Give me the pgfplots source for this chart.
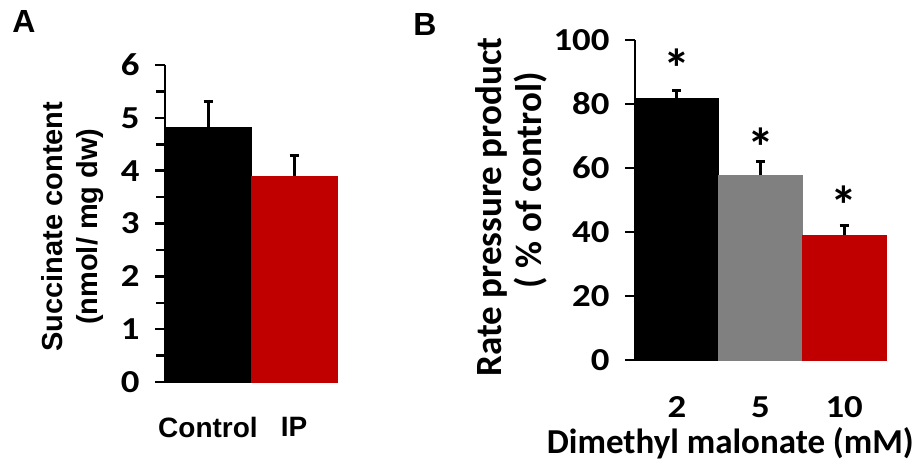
\documentclass[border=0pt]{standalone}
\usepackage{pgfplots}
\pgfplotsset{compat=1.18}
\usepackage{fontspec}
\setmainfont{Liberation Sans}
\newfontfamily\calib{Carlito}
\newfontfamily\calibw{Carlito}[FakeStretch=1.15]
\newfontfamily\arial{Liberation Sans}
\definecolor{xred}{HTML}{C00000}
\definecolor{xgray}{HTML}{808080}
\pgfplotsset{
  common/.style={
    scale only axis,
    anchor=south west,
    axis y line=left,
    axis x line=bottom,
    x axis line style={draw=none},
    y axis line style={line width=2.5pt,-},
    xtick style={draw=none},
    ytick style={line width=2.5pt, black},
    tick align=outside,
    major tick length=10pt,
    /pgf/number format/assume math mode=true,
    yticklabel style={font=\calibw\bfseries\fontsize{32}{38}\selectfont, xshift=-12pt},
    clip=false,
  },
  errb/.style={error bars/.cd, y dir=plus, y explicit,
    error bar style={line width=3pt, draw=black, solid},
    error mark options={rotate=90, line width=3pt, mark size=4.5pt, draw=black, solid}},
}
\begin{document}
\begin{tikzpicture}
\useasboundingbox (0pt,0pt) rectangle (920pt,466pt);
\node[font=\arial\bfseries\fontsize{32}{36}\selectfont] at (24pt,445pt) {A};
\node[font=\arial\bfseries\fontsize{32}{36}\selectfont] at (425pt,442pt) {B};

\begin{axis}[common, at={(165pt,84pt)}, width=172pt, height=317pt,
  xmin=-0.5, xmax=1.5, ymin=0, ymax=6,
  ytick={0,1,2,3,4,5,6}, minor y tick num=1, minor tick length=9pt,
  xtick={0,1}, xticklabels={Control,IP},
  xticklabel style={font=\arial\bfseries\fontsize{28}{34}\selectfont, anchor=center, yshift=-35pt},
  ylabel={Succinate content\\(nmol/ mg dw)},
  ylabel style={font=\arial\bfseries\fontsize{29}{35}\selectfont, align=center,
    at={(axis description cs:-0.535,0.49)}, anchor=center},
]
\addplot[ybar, bar width=1, bar shift=0pt, draw=black, line width=0pt, fill=black, errb]
  coordinates {(0,4.82) +- (0,0.49)};
\addplot[ybar, bar width=1, bar shift=0pt, draw=xred, line width=0pt, fill=xred, errb]
  coordinates {(1,3.89) +- (0,0.40)};
\end{axis}

\begin{axis}[common, at={(635pt,106pt)}, width=251pt, height=320pt,
  xmin=-0.5, xmax=2.5, ymin=0, ymax=100,
  ytick={0,20,40,60,80,100},
  xtick={0,1,2}, xticklabels={2,5,10},
  xticklabel style={font=\calibw\bfseries\fontsize{32}{38}\selectfont, anchor=center, yshift=-37pt},
  xlabel={Dimethyl malonate (mM)},
  xlabel style={font=\calib\bfseries\fontsize{35}{40}\selectfont,
    at={(axis description cs:0.38,-0.259)}, anchor=center},
  ylabel={Rate pressure product\\\hspace*{54pt}( \% of control)},
  ylabel style={font=\calib\bfseries\fontsize{37}{40}\selectfont, align=center,
    at={(axis description cs:-0.494,0.478)}, anchor=center},
]
\addplot[ybar, bar width=1, bar shift=0pt, draw=black, line width=0pt, fill=black, errb]
  coordinates {(0,81.6) +- (0,2.6)};
\addplot[ybar, bar width=1, bar shift=0pt, draw=xgray, line width=0pt, fill=xgray, errb]
  coordinates {(1,57.7) +- (0,4.4)};
\addplot[ybar, bar width=1, bar shift=0pt, draw=xred, line width=0pt, fill=xred, errb]
  coordinates {(2,39.0) +- (0,2.9)};
\node[anchor=base, font=\calib\bfseries\fontsize{54}{58}\selectfont] at (axis cs:0,85.1) {*};
\node[anchor=base, font=\calib\bfseries\fontsize{54}{58}\selectfont] at (axis cs:1,60.6) {*};
\node[anchor=base, font=\calib\bfseries\fontsize{54}{58}\selectfont] at (axis cs:2,42.4) {*};
\end{axis}
\end{tikzpicture}
\end{document}
